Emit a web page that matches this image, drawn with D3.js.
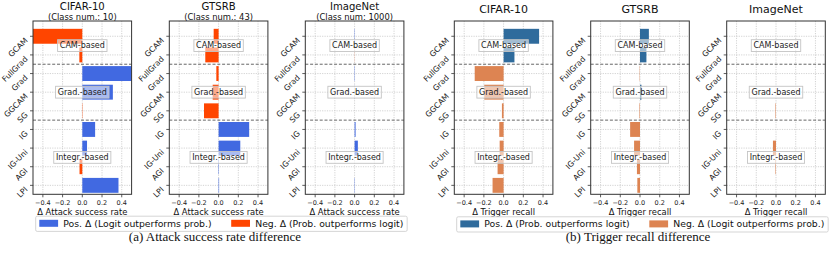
<!DOCTYPE html>
<html>
<head>
<meta charset="utf-8">
<script src="https://cdn.jsdelivr.net/npm/d3@7"></script>
<style>
  html, body { margin: 0; padding: 0; background: #fff; }
  svg { display: block; font-family: "DejaVu Sans", sans-serif; }
</style>
</head>
<body>
<svg id="chart" width="830" height="253"></svg>
<script>
// ---------------- data ----------------
const methods = ["GCAM", "FullGrad", "Grad", "GGCAM", "SG", "IG", "IG-Uni", "AGI", "LPI"];
const groupNames = ["CAM-based", "Grad.-based", "Integr.-based"];
const groupMembers = [["GCAM", "FullGrad"], ["Grad", "GGCAM", "SG"], ["IG", "IG-Uni", "AGI", "LPI"]];

const datasets = ["CIFAR-10", "GTSRB", "ImageNet"];
const classSubtitles = ["(Class num.: 10)", "(Class num.: 43)", "(Class num: 1000)"];

// Δ Attack success rate (logit − prob.)
const asrCifar10  = [-0.50, -0.03, 0.50, 0.31, -0.003, 0.13, 0.048, -0.028, 0.367];
const asrGtsrb    = [-0.05, -0.135, -0.023, -0.06, -0.148, 0.31, 0.22, 0.004, 0.005];
const asrImagenet = [0.003, -0.001, 0.003, 0.001, 0.0, 0.01, 0.033, 0.0, 0.003];

// Δ Trigger recall
const trCifar10  = [0.36, 0.11, -0.293, -0.196, -0.017, -0.044, -0.04, -0.061, -0.112];
const trGtsrb    = [0.09, 0.065, -0.003, 0.015, -0.005, -0.10, -0.06, -0.031, -0.027];
const trImagenet = [0.0, 0.0, 0.0, 0.0, -0.005, 0.0, -0.031, -0.005, 0.0];

const xTicks = [-0.4, -0.2, 0.0, 0.2, 0.4];
const xDomain = [-0.5, 0.5];

const asrLabel = "Δ Attack success rate";
const trLabel = "Δ Trigger recall";
const asrLegend = ["Pos. Δ (Logit outperforms prob.)", "Neg. Δ (Prob. outperforms logit)"];
const trLegend = ["Pos. Δ (Prob. outperforms logit)", "Neg. Δ (Logit outperforms prob.)"];
const captions = ["(a) Attack success rate difference", "(b) Trigger recall difference"];

// ---------------- styles / layout ----------------
const asrColors = ["#4169e1", "#ff4500"];
const trColors = ["#2f6b9c", "#dd8452"];

const panelLeft = [33, 169.3, 305.3, 454.3, 590.7, 726.7];
const panelW = 98.6;
const plotTop = 21, plotBottom = 194.3;

const svg = d3.select("#chart");

function drawPanel(i, values, colors, title, subtitle, xlabel) {
  const x0 = panelLeft[i];
  const x = d3.scaleLinear().domain(xDomain).range([x0, x0 + panelW]);
  const y = d3.scaleLinear().domain([-0.82, 8.48]).range([plotTop, plotBottom]);
  const g = svg.append("g");
  const bh = y(0.4) - y(0);

  // grid
  g.selectAll(".vg").data(xTicks).enter().append("line")
    .attr("x1", d => x(d)).attr("x2", d => x(d))
    .attr("y1", plotTop).attr("y2", plotBottom)
    .attr("stroke", "#c8c8c8").attr("stroke-width", 0.8).attr("stroke-dasharray", "1.2,1.2");
  g.selectAll(".hg").data(methods).enter().append("line")
    .attr("x1", x0).attr("x2", x0 + panelW)
    .attr("y1", (d, k) => y(k)).attr("y2", (d, k) => y(k))
    .attr("stroke", "#c8c8c8").attr("stroke-width", 0.8).attr("stroke-dasharray", "1.2,1.2");

  // bars
  g.selectAll(".bar").data(values).enter().append("rect")
    .attr("x", d => x(Math.min(0, d)))
    .attr("width", d => Math.abs(x(d) - x(0)))
    .attr("y", (d, k) => y(k) - bh)
    .attr("height", 2 * bh)
    .attr("fill", d => d >= 0 ? colors[0] : colors[1]);

  // group separators
  const bounds = [];
  let acc = 0;
  groupMembers.forEach((m, k) => { acc += m.length; if (k < groupMembers.length - 1) bounds.push(acc - 0.5); });
  g.selectAll(".sep").data(bounds).enter().append("line")
    .attr("x1", x0).attr("x2", x0 + panelW)
    .attr("y1", d => y(d)).attr("y2", d => y(d))
    .attr("stroke", "#666").attr("stroke-width", 1).attr("stroke-dasharray", "3,1.8");

  // group labels with boxes
  groupNames.forEach((name, k) => {
    const idx = groupMembers[k].map(m => methods.indexOf(m));
    const cy = y(d3.mean(idx));
    const cx = x(0);
    const t = g.append("text").attr("x", cx).attr("y", cy).attr("dy", "0.36em")
      .attr("text-anchor", "middle").attr("font-size", 8).attr("fill", "#222").text(name);
    const w = t.node().getComputedTextLength();
    g.insert("rect", function() { return t.node(); })
      .attr("x", cx - w / 2 - 2.2).attr("y", cy - 5.9)
      .attr("width", w + 4.4).attr("height", 11.8)
      .attr("fill", "#fff").attr("fill-opacity", 0.55)
      .attr("stroke", "#c4c4c4").attr("stroke-width", 0.9);
  });

  // frame
  g.append("rect").attr("x", x0).attr("y", plotTop).attr("width", panelW).attr("height", plotBottom - plotTop)
    .attr("fill", "none").attr("stroke", "#333").attr("stroke-width", 1);

  // x ticks
  const fmt = d3.format(".1f");
  g.selectAll(".xt").data(xTicks).enter().append("line")
    .attr("x1", d => x(d)).attr("x2", d => x(d)).attr("y1", plotBottom).attr("y2", plotBottom + 3)
    .attr("stroke", "#333").attr("stroke-width", 0.8);
  g.selectAll(".xtl").data(xTicks).enter().append("text")
    .attr("x", d => x(d)).attr("y", plotBottom + 10.4)
    .attr("text-anchor", "middle").attr("font-size", 6.5).attr("fill", "#222")
    .text(d => fmt(d));
  g.append("text").attr("x", x(0)).attr("y", 214.5).attr("text-anchor", "middle")
    .attr("font-size", 8.4).attr("fill", "#111").text(xlabel);

  // y ticks
  g.selectAll(".yt").data(methods).enter().append("line")
    .attr("x1", x0 - 3).attr("x2", x0).attr("y1", (d, k) => y(k)).attr("y2", (d, k) => y(k))
    .attr("stroke", "#333").attr("stroke-width", 0.8);
  g.selectAll(".ytl").data(methods).enter().append("text")
    .attr("transform", (d, k) => `translate(${x0 - 6.8},${y(k) + 2.6}) rotate(-45)`)
    .attr("text-anchor", "end").attr("dy", "0.36em")
    .attr("font-size", 7.8).attr("fill", "#222").text(d => d);

  // title (kept as one text element)
  const tt = g.append("text").attr("text-anchor", "middle").attr("fill", "#111");
  if (subtitle) {
    tt.append("tspan").attr("x", x(0)).attr("y", 9.5).attr("font-size", 10.1).text(title);
    tt.append("tspan").attr("x", x(0)).attr("y", 19.6).attr("font-size", 8.4).text(subtitle);
  } else {
    tt.append("tspan").attr("x", x(0)).attr("y", 13.4).attr("font-size", 11).text(title);
  }
}

const asrSeries = [asrCifar10, asrGtsrb, asrImagenet];
const trSeries = [trCifar10, trGtsrb, trImagenet];
asrSeries.forEach((v, k) => drawPanel(k, v, asrColors, datasets[k], classSubtitles[k], asrLabel));
trSeries.forEach((v, k) => drawPanel(k + 3, v, trColors, datasets[k], null, trLabel));

// legends
function drawLegend(bx, by, texts, colors) {
  const g = svg.append("g");
  const box = g.append("rect").attr("x", bx).attr("y", by).attr("height", 15.2)
    .attr("fill", "#fff").attr("stroke", "#d0d0d0").attr("stroke-width", 0.9).attr("rx", 1.5);
  let cx = bx + 3.6;
  texts.forEach((t, k) => {
    g.append("rect").attr("x", cx).attr("y", by + 3.6).attr("width", 18.8).attr("height", 7)
      .attr("fill", colors[k]);
    const tx = g.append("text").attr("x", cx + 24).attr("y", by + 10.4)
      .attr("font-size", 9.3).attr("fill", "#111").text(t);
    cx = cx + 24 + tx.node().getComputedTextLength() + 19.6;
  });
  box.attr("width", cx - 19.6 + 3.8 - bx);
}
drawLegend(35.7, 216.2, asrLegend, asrColors);
drawLegend(456.7, 216.8, trLegend, trColors);

// captions
svg.append("text").attr("x", 215).attr("y", 240.6).attr("text-anchor", "middle")
  .attr("font-family", "Liberation Serif, serif").attr("font-size", 13).attr("fill", "#111").text(captions[0]);
svg.append("text").attr("x", 638).attr("y", 240.6).attr("text-anchor", "middle")
  .attr("font-family", "Liberation Serif, serif").attr("font-size", 13).attr("fill", "#111").text(captions[1]);
</script>
</body>
</html>
